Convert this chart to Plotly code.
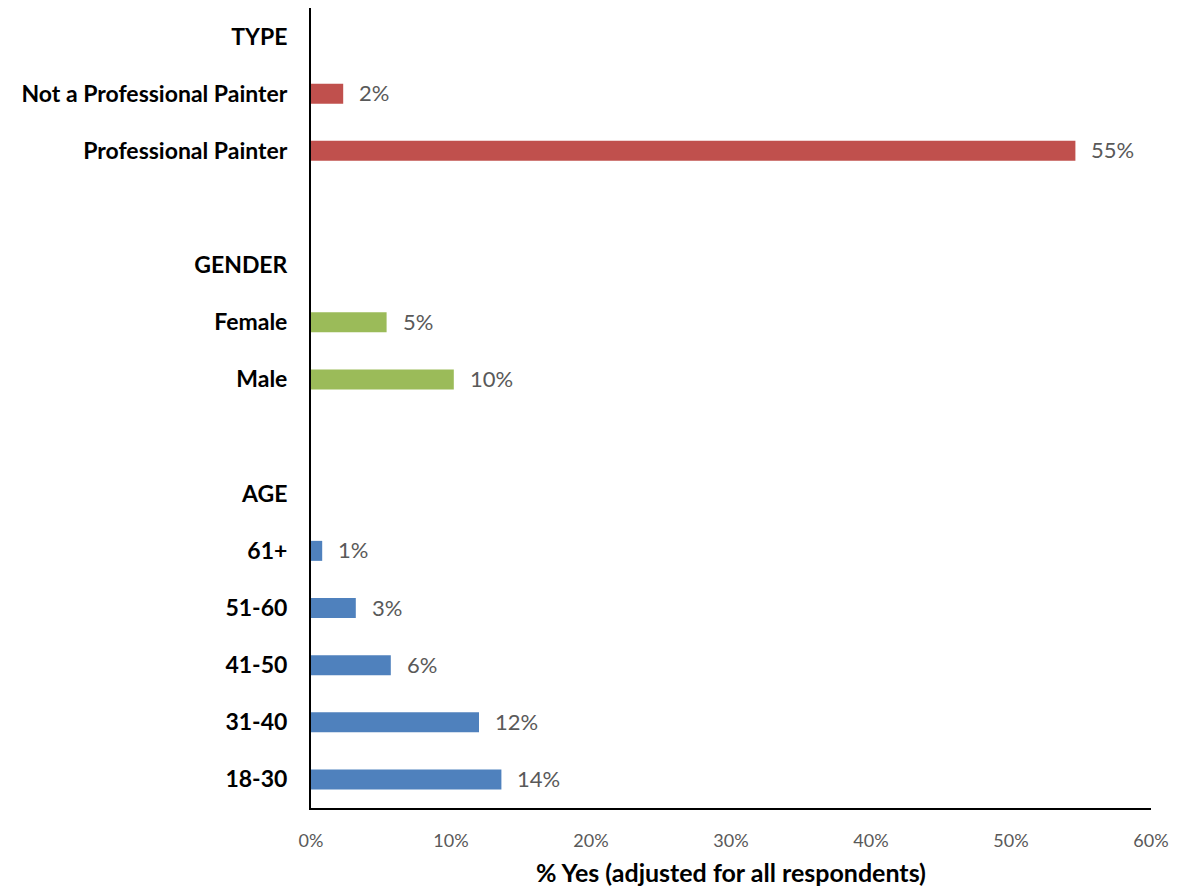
import plotly.graph_objects as go

categories = ["TYPE", "Not a Professional Painter", "Professional Painter", " ",
              "GENDER", "Female", "Male", "  ",
              "AGE", "61+", "51-60", "41-50", "31-40", "18-30"]
values = [None, 2.3, 54.6, None,
          None, 5.4, 10.2, None,
          None, 0.8, 3.2, 5.7, 12.0, 13.6]
labels = ["", "2%", "55%", "",
          "", "5%", "10%", "",
          "", "1%", "3%", "6%", "12%", "14%"]
groups = ["", "type", "type", "",
          "", "gender", "gender", "",
          "", "age", "age", "age", "age", "age"]
group_colors = {"type": "#C0504D", "gender": "#9BBB59", "age": "#4F81BD", "": "#FFFFFF"}
x_ticks = [0, 10, 20, 30, 40, 50, 60]
x_tick_labels = ["0%", "10%", "20%", "30%", "40%", "50%", "60%"]
x_title = "% Yes (adjusted for all respondents)"

FONT = "Lato"

fig = go.Figure()
fig.add_trace(go.Bar(
    y=categories,
    x=[v if v is not None else 0 for v in values],
    orientation="h",
    marker=dict(color=[group_colors[g] for g in groups], line=dict(width=0)),
    width=0.35,
    hoverinfo="skip",
))

for c, v, t in zip(categories, values, labels):
    if v is None:
        continue
    fig.add_annotation(x=v, y=c, text=t, showarrow=False, xanchor="left",
                       xshift=14, yshift=1,
                       font=dict(family=FONT, size=22, color="#595959"))

fig.update_layout(
    width=1162, height=879,
    margin=dict(l=303, r=19, t=0, b=79),
    paper_bgcolor="white", plot_bgcolor="white",
    showlegend=False,
    bargap=0.65,
)
fig.update_yaxes(
    type="category",
    categoryorder="array", categoryarray=categories,
    autorange="reversed",
    range=[13.5, -0.5],
    showline=True, linecolor="black", linewidth=2,
    showgrid=False, zeroline=False,
    ticks="", ticklabelstandoff=17,
    tickfont=dict(family=FONT, size=23, color="black", weight="bold"),
)
fig.update_xaxes(
    range=[0, 60],
    tickvals=x_ticks, ticktext=x_tick_labels,
    showline=True, linecolor="black", linewidth=2,
    showgrid=False, zeroline=False,
    ticks="", ticklabelstandoff=15,
    tickfont=dict(family=FONT, size=18, color="#595959"),
    title=dict(text=x_title, font=dict(family=FONT, size=25, color="black", weight="bold"), standoff=19),
)
fig.write_html("out.html")
